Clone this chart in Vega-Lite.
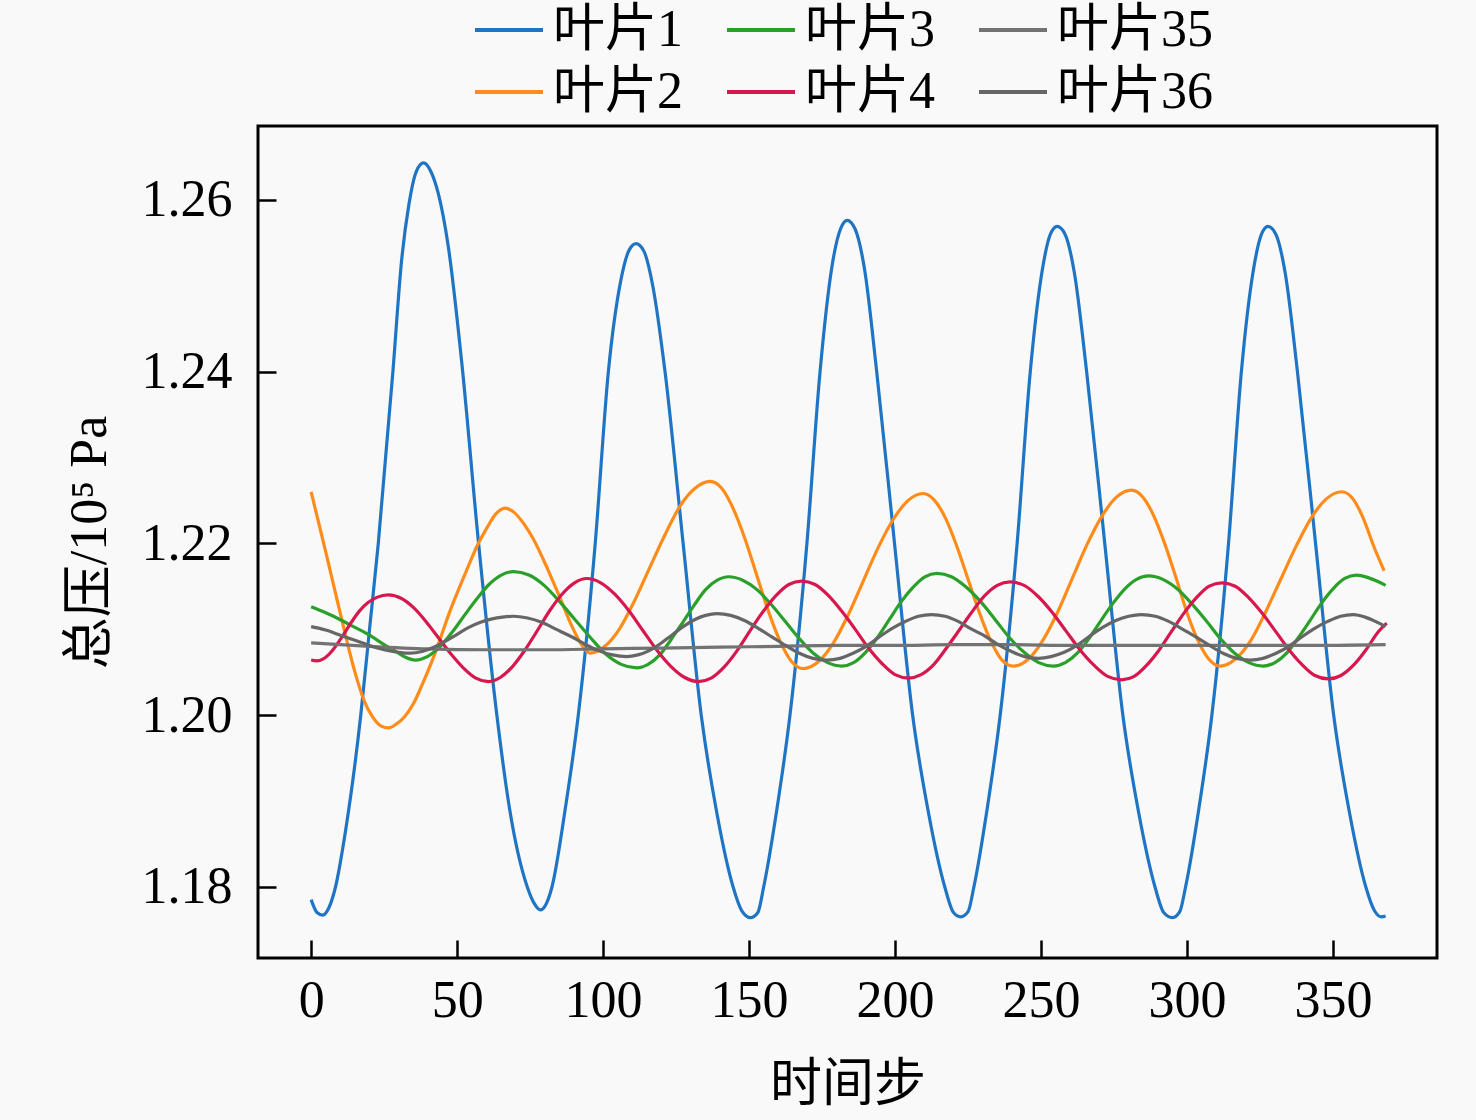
{
  "$schema": "https://vega.github.io/schema/vega-lite/v6.json",
  "description": "叶片总压随时间步变化",
  "width": 1179,
  "height": 832,
  "autosize": {"type": "none"},
  "padding": {"left": 258, "top": 126, "right": 39, "bottom": 162},
  "background": "#f9f9f9",
  "datasets": {
    "pressure": [
      {"step": 0, "blade": "叶片1", "p": 1.1785}, {"step": 2, "blade": "叶片1", "p": 1.1770}, {"step": 4, "blade": "叶片1", "p": 1.1767}, {"step": 6, "blade": "叶片1", "p": 1.1775}, {"step": 8, "blade": "叶片1", "p": 1.1795}, {"step": 12, "blade": "叶片1", "p": 1.1870}, {"step": 17, "blade": "叶片1", "p": 1.2000}, {"step": 20, "blade": "叶片1", "p": 1.2100}, {"step": 23, "blade": "叶片1", "p": 1.2200}, {"step": 28, "blade": "叶片1", "p": 1.2400}, {"step": 31, "blade": "叶片1", "p": 1.2530}, {"step": 33.5, "blade": "叶片1", "p": 1.2595}, {"step": 36, "blade": "叶片1", "p": 1.2633}, {"step": 38.5, "blade": "叶片1", "p": 1.2643}, {"step": 41, "blade": "叶片1", "p": 1.2633}, {"step": 43.5, "blade": "叶片1", "p": 1.2608}, {"step": 47, "blade": "叶片1", "p": 1.2545}, {"step": 51.6, "blade": "叶片1", "p": 1.2410}, {"step": 57.2, "blade": "叶片1", "p": 1.2205}, {"step": 63.6, "blade": "叶片1", "p": 1.2000}, {"step": 68, "blade": "叶片1", "p": 1.1890}, {"step": 74, "blade": "叶片1", "p": 1.1800}, {"step": 76.5, "blade": "叶片1", "p": 1.1780}, {"step": 78.5, "blade": "叶片1", "p": 1.1773},
      {"step": 80.5, "blade": "叶片1", "p": 1.1780}, {"step": 82.5, "blade": "叶片1", "p": 1.1800}, {"step": 87, "blade": "叶片1", "p": 1.1890}, {"step": 91.5, "blade": "叶片1", "p": 1.2000}, {"step": 97.3, "blade": "叶片1", "p": 1.2200}, {"step": 101.8, "blade": "叶片1", "p": 1.2400}, {"step": 106, "blade": "叶片1", "p": 1.2505}, {"step": 109, "blade": "叶片1", "p": 1.2542}, {"step": 111.3, "blade": "叶片1", "p": 1.2549}, {"step": 114, "blade": "叶片1", "p": 1.2540}, {"step": 117, "blade": "叶片1", "p": 1.2500}, {"step": 121.2, "blade": "叶片1", "p": 1.2400}, {"step": 127.4, "blade": "叶片1", "p": 1.2200}, {"step": 133.6, "blade": "叶片1", "p": 1.2000}, {"step": 139, "blade": "叶片1", "p": 1.1885}, {"step": 144.5, "blade": "叶片1", "p": 1.1800}, {"step": 147.5, "blade": "叶片1", "p": 1.1772}, {"step": 150.5, "blade": "叶片1", "p": 1.1764},
      {"step": 153, "blade": "叶片1", "p": 1.1770}, {"step": 155, "blade": "叶片1", "p": 1.1800}, {"step": 159.5, "blade": "叶片1", "p": 1.1890}, {"step": 164, "blade": "叶片1", "p": 1.2000}, {"step": 169.8, "blade": "叶片1", "p": 1.2200}, {"step": 174.3, "blade": "叶片1", "p": 1.2400}, {"step": 178.5, "blade": "叶片1", "p": 1.2525}, {"step": 181.3, "blade": "叶片1", "p": 1.2566}, {"step": 183.6, "blade": "叶片1", "p": 1.2576}, {"step": 186.3, "blade": "叶片1", "p": 1.2566}, {"step": 189.5, "blade": "叶片1", "p": 1.2520}, {"step": 193.7, "blade": "叶片1", "p": 1.2400}, {"step": 199.8, "blade": "叶片1", "p": 1.2200}, {"step": 206, "blade": "叶片1", "p": 1.2000}, {"step": 211.5, "blade": "叶片1", "p": 1.1885}, {"step": 217, "blade": "叶片1", "p": 1.1800}, {"step": 220, "blade": "叶片1", "p": 1.1770}, {"step": 222.5, "blade": "叶片1", "p": 1.1765},
      {"step": 225, "blade": "叶片1", "p": 1.1771}, {"step": 227, "blade": "叶片1", "p": 1.1800}, {"step": 231.5, "blade": "叶片1", "p": 1.1890}, {"step": 236, "blade": "叶片1", "p": 1.2000}, {"step": 241.8, "blade": "叶片1", "p": 1.2200}, {"step": 246.3, "blade": "叶片1", "p": 1.2400}, {"step": 250.5, "blade": "叶片1", "p": 1.2520}, {"step": 253.2, "blade": "叶片1", "p": 1.2560}, {"step": 255.5, "blade": "叶片1", "p": 1.2569}, {"step": 258.2, "blade": "叶片1", "p": 1.2560}, {"step": 261.4, "blade": "叶片1", "p": 1.2515}, {"step": 265.6, "blade": "叶片1", "p": 1.2400}, {"step": 271.8, "blade": "叶片1", "p": 1.2200}, {"step": 278, "blade": "叶片1", "p": 1.2000}, {"step": 283.5, "blade": "叶片1", "p": 1.1885}, {"step": 289, "blade": "叶片1", "p": 1.1800}, {"step": 292, "blade": "叶片1", "p": 1.1770}, {"step": 295, "blade": "叶片1", "p": 1.1764},
      {"step": 297.5, "blade": "叶片1", "p": 1.1771}, {"step": 299.5, "blade": "叶片1", "p": 1.1800}, {"step": 304, "blade": "叶片1", "p": 1.1890}, {"step": 308.5, "blade": "叶片1", "p": 1.2000}, {"step": 314.2, "blade": "叶片1", "p": 1.2200}, {"step": 318.6, "blade": "叶片1", "p": 1.2400}, {"step": 322.8, "blade": "叶片1", "p": 1.2520}, {"step": 325.5, "blade": "叶片1", "p": 1.2560}, {"step": 327.7, "blade": "叶片1", "p": 1.2569}, {"step": 330.4, "blade": "叶片1", "p": 1.2560}, {"step": 333.6, "blade": "叶片1", "p": 1.2515}, {"step": 337.8, "blade": "叶片1", "p": 1.2400}, {"step": 344, "blade": "叶片1", "p": 1.2200}, {"step": 350.2, "blade": "叶片1", "p": 1.2000}, {"step": 355.7, "blade": "叶片1", "p": 1.1885}, {"step": 361.2, "blade": "叶片1", "p": 1.1800}, {"step": 364.2, "blade": "叶片1", "p": 1.1772}, {"step": 366.5, "blade": "叶片1", "p": 1.1765}, {"step": 368, "blade": "叶片1", "p": 1.1766},

      {"step": 0, "blade": "叶片2", "p": 1.2260}, {"step": 5, "blade": "叶片2", "p": 1.2190}, {"step": 10, "blade": "叶片2", "p": 1.2118}, {"step": 15, "blade": "叶片2", "p": 1.2050}, {"step": 18, "blade": "叶片2", "p": 1.2018}, {"step": 21, "blade": "叶片2", "p": 1.1998}, {"step": 24, "blade": "叶片2", "p": 1.1987}, {"step": 26.5, "blade": "叶片2", "p": 1.1985}, {"step": 29, "blade": "叶片2", "p": 1.1989}, {"step": 32, "blade": "叶片2", "p": 1.1998}, {"step": 35, "blade": "叶片2", "p": 1.2013}, {"step": 38, "blade": "叶片2", "p": 1.2035}, {"step": 42, "blade": "叶片2", "p": 1.2068}, {"step": 48, "blade": "叶片2", "p": 1.2125}, {"step": 53.3, "blade": "叶片2", "p": 1.2169}, {"step": 57, "blade": "叶片2", "p": 1.2198}, {"step": 60.2, "blade": "叶片2", "p": 1.2218}, {"step": 63.5, "blade": "叶片2", "p": 1.2235}, {"step": 66.4, "blade": "叶片2", "p": 1.2241}, {"step": 69.5, "blade": "叶片2", "p": 1.2236}, {"step": 73, "blade": "叶片2", "p": 1.2222}, {"step": 76.1, "blade": "叶片2", "p": 1.2205}, {"step": 81, "blade": "叶片2", "p": 1.2170}, {"step": 85.3, "blade": "叶片2", "p": 1.2136}, {"step": 89.5, "blade": "叶片2", "p": 1.2102}, {"step": 93, "blade": "叶片2", "p": 1.2080}, {"step": 95.5, "blade": "叶片2", "p": 1.2072},
      {"step": 100.6, "blade": "叶片2", "p": 1.2080}, {"step": 105.75, "blade": "叶片2", "p": 1.2101}, {"step": 110.9, "blade": "叶片2", "p": 1.2134}, {"step": 116, "blade": "叶片2", "p": 1.2172}, {"step": 121.2, "blade": "叶片2", "p": 1.2210}, {"step": 126.3, "blade": "叶片2", "p": 1.2243}, {"step": 131.5, "blade": "叶片2", "p": 1.2264}, {"step": 136.6, "blade": "叶片2", "p": 1.2272},
      {"step": 140.6, "blade": "叶片2", "p": 1.2264}, {"step": 144.6, "blade": "叶片2", "p": 1.2240}, {"step": 148.6, "blade": "叶片2", "p": 1.2205}, {"step": 152.6, "blade": "叶片2", "p": 1.2163}, {"step": 156.6, "blade": "叶片2", "p": 1.2121}, {"step": 160.6, "blade": "叶片2", "p": 1.2086}, {"step": 164.6, "blade": "叶片2", "p": 1.2062}, {"step": 168.6, "blade": "叶片2", "p": 1.2054},
      {"step": 173.7, "blade": "叶片2", "p": 1.2062}, {"step": 178.9, "blade": "叶片2", "p": 1.2084}, {"step": 184, "blade": "叶片2", "p": 1.2117}, {"step": 189.1, "blade": "叶片2", "p": 1.2156}, {"step": 194.2, "blade": "叶片2", "p": 1.2195}, {"step": 199.4, "blade": "叶片2", "p": 1.2228}, {"step": 204.5, "blade": "叶片2", "p": 1.2250}, {"step": 209.6, "blade": "叶片2", "p": 1.2258},
      {"step": 213.5, "blade": "叶片2", "p": 1.2250}, {"step": 217.3, "blade": "叶片2", "p": 1.2229}, {"step": 221.2, "blade": "叶片2", "p": 1.2196}, {"step": 225, "blade": "叶片2", "p": 1.2158}, {"step": 228.9, "blade": "叶片2", "p": 1.2119}, {"step": 232.8, "blade": "叶片2", "p": 1.2086}, {"step": 236.6, "blade": "叶片2", "p": 1.2064}, {"step": 240.5, "blade": "叶片2", "p": 1.2057},
      {"step": 245.6, "blade": "叶片2", "p": 1.2065}, {"step": 250.6, "blade": "叶片2", "p": 1.2087}, {"step": 255.7, "blade": "叶片2", "p": 1.2120}, {"step": 260.8, "blade": "叶片2", "p": 1.2160}, {"step": 265.8, "blade": "叶片2", "p": 1.2199}, {"step": 270.9, "blade": "叶片2", "p": 1.2232}, {"step": 275.9, "blade": "叶片2", "p": 1.2254}, {"step": 281, "blade": "叶片2", "p": 1.2262},
      {"step": 284.8, "blade": "叶片2", "p": 1.2254}, {"step": 288.6, "blade": "叶片2", "p": 1.2232}, {"step": 292.4, "blade": "叶片2", "p": 1.2199}, {"step": 296.2, "blade": "叶片2", "p": 1.2160}, {"step": 299.9, "blade": "叶片2", "p": 1.2120}, {"step": 303.7, "blade": "叶片2", "p": 1.2087}, {"step": 307.5, "blade": "叶片2", "p": 1.2065}, {"step": 311.3, "blade": "叶片2", "p": 1.2057},
      {"step": 316.5, "blade": "叶片2", "p": 1.2065}, {"step": 321.7, "blade": "叶片2", "p": 1.2086}, {"step": 326.9, "blade": "叶片2", "p": 1.2120}, {"step": 332.2, "blade": "叶片2", "p": 1.2159}, {"step": 337.4, "blade": "叶片2", "p": 1.2197}, {"step": 342.6, "blade": "叶片2", "p": 1.2230}, {"step": 347.8, "blade": "叶片2", "p": 1.2252}, {"step": 353, "blade": "叶片2", "p": 1.2260}, {"step": 356.5, "blade": "叶片2", "p": 1.2253}, {"step": 360, "blade": "叶片2", "p": 1.2232}, {"step": 364, "blade": "叶片2", "p": 1.2196}, {"step": 367.5, "blade": "叶片2", "p": 1.2168},

      {"step": 0, "blade": "叶片3", "p": 1.2126}, {"step": 5, "blade": "叶片3", "p": 1.2119}, {"step": 10, "blade": "叶片3", "p": 1.2111}, {"step": 15, "blade": "叶片3", "p": 1.2102}, {"step": 20, "blade": "叶片3", "p": 1.2093}, {"step": 25, "blade": "叶片3", "p": 1.2082}, {"step": 29, "blade": "叶片3", "p": 1.2074}, {"step": 32.5, "blade": "叶片3", "p": 1.2067}, {"step": 35.6, "blade": "叶片3", "p": 1.2064},
      {"step": 39.8, "blade": "叶片3", "p": 1.2068}, {"step": 44, "blade": "叶片3", "p": 1.2079}, {"step": 48.2, "blade": "叶片3", "p": 1.2096}, {"step": 52.5, "blade": "叶片3", "p": 1.2116}, {"step": 56.7, "blade": "叶片3", "p": 1.2135}, {"step": 60.9, "blade": "叶片3", "p": 1.2152}, {"step": 65.1, "blade": "叶片3", "p": 1.2163}, {"step": 69.3, "blade": "叶片3", "p": 1.2167},
      {"step": 74.6, "blade": "叶片3", "p": 1.2163}, {"step": 79.8, "blade": "叶片3", "p": 1.2151}, {"step": 85.1, "blade": "叶片3", "p": 1.2132}, {"step": 90.4, "blade": "叶片3", "p": 1.2111}, {"step": 95.7, "blade": "叶片3", "p": 1.2090}, {"step": 100.9, "blade": "叶片3", "p": 1.2071}, {"step": 106.2, "blade": "叶片3", "p": 1.2059}, {"step": 111.5, "blade": "叶片3", "p": 1.2055},
      {"step": 115.4, "blade": "叶片3", "p": 1.2059}, {"step": 119.4, "blade": "叶片3", "p": 1.2070}, {"step": 123.3, "blade": "叶片3", "p": 1.2088}, {"step": 127.3, "blade": "叶片3", "p": 1.2108}, {"step": 131.2, "blade": "叶片3", "p": 1.2128}, {"step": 135.1, "blade": "叶片3", "p": 1.2146}, {"step": 139.1, "blade": "叶片3", "p": 1.2157}, {"step": 143, "blade": "叶片3", "p": 1.2161},
      {"step": 147.8, "blade": "叶片3", "p": 1.2157}, {"step": 152.7, "blade": "叶片3", "p": 1.2146}, {"step": 157.5, "blade": "叶片3", "p": 1.2129}, {"step": 162.4, "blade": "叶片3", "p": 1.2109}, {"step": 167.2, "blade": "叶片3", "p": 1.2089}, {"step": 172, "blade": "叶片3", "p": 1.2072}, {"step": 176.9, "blade": "叶片3", "p": 1.2061}, {"step": 181.7, "blade": "叶片3", "p": 1.2057},
      {"step": 185.8, "blade": "叶片3", "p": 1.2061}, {"step": 189.9, "blade": "叶片3", "p": 1.2073}, {"step": 193.9, "blade": "叶片3", "p": 1.2090}, {"step": 198, "blade": "叶片3", "p": 1.2111}, {"step": 202.1, "blade": "叶片3", "p": 1.2132}, {"step": 206.2, "blade": "叶片3", "p": 1.2149}, {"step": 210.2, "blade": "叶片3", "p": 1.2161}, {"step": 214.3, "blade": "叶片3", "p": 1.2165},
      {"step": 219.3, "blade": "叶片3", "p": 1.2161}, {"step": 224.3, "blade": "叶片3", "p": 1.2149}, {"step": 229.3, "blade": "叶片3", "p": 1.2132}, {"step": 234.3, "blade": "叶片3", "p": 1.2111}, {"step": 239.2, "blade": "叶片3", "p": 1.2090}, {"step": 244.2, "blade": "叶片3", "p": 1.2073}, {"step": 249.2, "blade": "叶片3", "p": 1.2061}, {"step": 254.2, "blade": "叶片3", "p": 1.2057},
      {"step": 258.3, "blade": "叶片3", "p": 1.2061}, {"step": 262.4, "blade": "叶片3", "p": 1.2072}, {"step": 266.4, "blade": "叶片3", "p": 1.2089}, {"step": 270.5, "blade": "叶片3", "p": 1.2110}, {"step": 274.6, "blade": "叶片3", "p": 1.2130}, {"step": 278.7, "blade": "叶片3", "p": 1.2147}, {"step": 282.7, "blade": "叶片3", "p": 1.2158}, {"step": 286.8, "blade": "叶片3", "p": 1.2162},
      {"step": 291.7, "blade": "叶片3", "p": 1.2158}, {"step": 296.6, "blade": "叶片3", "p": 1.2147}, {"step": 301.5, "blade": "叶片3", "p": 1.2130}, {"step": 306.5, "blade": "叶片3", "p": 1.2110}, {"step": 311.4, "blade": "叶片3", "p": 1.2089}, {"step": 316.3, "blade": "叶片3", "p": 1.2072}, {"step": 321.2, "blade": "叶片3", "p": 1.2061}, {"step": 326.1, "blade": "叶片3", "p": 1.2057},
      {"step": 330.1, "blade": "叶片3", "p": 1.2061}, {"step": 334.1, "blade": "叶片3", "p": 1.2072}, {"step": 338.1, "blade": "叶片3", "p": 1.2090}, {"step": 342.1, "blade": "叶片3", "p": 1.2110}, {"step": 346, "blade": "叶片3", "p": 1.2130}, {"step": 350, "blade": "叶片3", "p": 1.2147}, {"step": 354, "blade": "叶片3", "p": 1.2159}, {"step": 358, "blade": "叶片3", "p": 1.2163}, {"step": 362, "blade": "叶片3", "p": 1.2160}, {"step": 365, "blade": "叶片3", "p": 1.2156}, {"step": 368, "blade": "叶片3", "p": 1.2151},

      {"step": 0, "blade": "叶片4", "p": 1.2064}, {"step": 2, "blade": "叶片4", "p": 1.2063}, {"step": 4, "blade": "叶片4", "p": 1.2065}, {"step": 7, "blade": "叶片4", "p": 1.2074}, {"step": 10, "blade": "叶片4", "p": 1.2088}, {"step": 13.4, "blade": "叶片4", "p": 1.2106}, {"step": 16.5, "blade": "叶片4", "p": 1.2121}, {"step": 19.5, "blade": "叶片4", "p": 1.2131}, {"step": 22.5, "blade": "叶片4", "p": 1.2137}, {"step": 26.5, "blade": "叶片4", "p": 1.2140},
      {"step": 30.8, "blade": "叶片4", "p": 1.2136}, {"step": 35.1, "blade": "叶片4", "p": 1.2125}, {"step": 39.3, "blade": "叶片4", "p": 1.2109}, {"step": 43.6, "blade": "叶片4", "p": 1.2090}, {"step": 47.9, "blade": "叶片4", "p": 1.2071}, {"step": 52.1, "blade": "叶片4", "p": 1.2055}, {"step": 56.4, "blade": "叶片4", "p": 1.2043}, {"step": 60.7, "blade": "叶片4", "p": 1.2039},
      {"step": 64.9, "blade": "叶片4", "p": 1.2044}, {"step": 69.1, "blade": "叶片4", "p": 1.2057}, {"step": 73.3, "blade": "叶片4", "p": 1.2076}, {"step": 77.6, "blade": "叶片4", "p": 1.2099}, {"step": 81.8, "blade": "叶片4", "p": 1.2122}, {"step": 86, "blade": "叶片4", "p": 1.2141}, {"step": 90.2, "blade": "叶片4", "p": 1.2154}, {"step": 94.4, "blade": "叶片4", "p": 1.2159},
      {"step": 99.2, "blade": "叶片4", "p": 1.2154}, {"step": 103.9, "blade": "叶片4", "p": 1.2141}, {"step": 108.7, "blade": "叶片4", "p": 1.2122}, {"step": 113.5, "blade": "叶片4", "p": 1.2099}, {"step": 118.3, "blade": "叶片4", "p": 1.2076}, {"step": 123.1, "blade": "叶片4", "p": 1.2057}, {"step": 127.8, "blade": "叶片4", "p": 1.2044}, {"step": 132.6, "blade": "叶片4", "p": 1.2039},
      {"step": 137, "blade": "叶片4", "p": 1.2043}, {"step": 141.5, "blade": "叶片4", "p": 1.2056}, {"step": 145.9, "blade": "叶片4", "p": 1.2075}, {"step": 150.3, "blade": "叶片4", "p": 1.2098}, {"step": 154.7, "blade": "叶片4", "p": 1.2120}, {"step": 159.2, "blade": "叶片4", "p": 1.2139}, {"step": 163.6, "blade": "叶片4", "p": 1.2152}, {"step": 168, "blade": "叶片4", "p": 1.2156},
      {"step": 172.6, "blade": "叶片4", "p": 1.2152}, {"step": 177.2, "blade": "叶片4", "p": 1.2139}, {"step": 181.7, "blade": "叶片4", "p": 1.2121}, {"step": 186.3, "blade": "叶片4", "p": 1.2100}, {"step": 190.9, "blade": "叶片4", "p": 1.2078}, {"step": 195.5, "blade": "叶片4", "p": 1.2060}, {"step": 200, "blade": "叶片4", "p": 1.2047}, {"step": 204.6, "blade": "叶片4", "p": 1.2043},
      {"step": 208.9, "blade": "叶片4", "p": 1.2047}, {"step": 213.3, "blade": "叶片4", "p": 1.2059}, {"step": 217.6, "blade": "叶片4", "p": 1.2078}, {"step": 222, "blade": "叶片4", "p": 1.2099}, {"step": 226.3, "blade": "叶片4", "p": 1.2120}, {"step": 230.7, "blade": "叶片4", "p": 1.2139}, {"step": 235, "blade": "叶片4", "p": 1.2151}, {"step": 239.4, "blade": "叶片4", "p": 1.2155},
      {"step": 244.2, "blade": "叶片4", "p": 1.2151}, {"step": 249, "blade": "叶片4", "p": 1.2138}, {"step": 253.7, "blade": "叶片4", "p": 1.2120}, {"step": 258.5, "blade": "叶片4", "p": 1.2098}, {"step": 263.3, "blade": "叶片4", "p": 1.2076}, {"step": 268.1, "blade": "叶片4", "p": 1.2058}, {"step": 272.8, "blade": "叶片4", "p": 1.2045}, {"step": 277.6, "blade": "叶片4", "p": 1.2041},
      {"step": 281.9, "blade": "叶片4", "p": 1.2045}, {"step": 286.2, "blade": "叶片4", "p": 1.2058}, {"step": 290.5, "blade": "叶片4", "p": 1.2076}, {"step": 294.8, "blade": "叶片4", "p": 1.2098}, {"step": 299, "blade": "叶片4", "p": 1.2119}, {"step": 303.3, "blade": "叶片4", "p": 1.2137}, {"step": 307.6, "blade": "叶片4", "p": 1.2150}, {"step": 311.9, "blade": "叶片4", "p": 1.2154},
      {"step": 316.5, "blade": "叶片4", "p": 1.2150}, {"step": 321, "blade": "叶片4", "p": 1.2137}, {"step": 325.6, "blade": "叶片4", "p": 1.2119}, {"step": 330.2, "blade": "叶片4", "p": 1.2098}, {"step": 334.7, "blade": "叶片4", "p": 1.2077}, {"step": 339.3, "blade": "叶片4", "p": 1.2059}, {"step": 343.8, "blade": "叶片4", "p": 1.2046}, {"step": 348.4, "blade": "叶片4", "p": 1.2042}, {"step": 352.7, "blade": "叶片4", "p": 1.2046}, {"step": 357, "blade": "叶片4", "p": 1.2058}, {"step": 361.3, "blade": "叶片4", "p": 1.2076}, {"step": 365.5, "blade": "叶片4", "p": 1.2097}, {"step": 368.4, "blade": "叶片4", "p": 1.2107},

      {"step": 0, "blade": "叶片35", "p": 1.2084}, {"step": 20, "blade": "叶片35", "p": 1.2080}, {"step": 40, "blade": "叶片35", "p": 1.2077}, {"step": 60, "blade": "叶片35", "p": 1.2076}, {"step": 80, "blade": "叶片35", "p": 1.2076}, {"step": 100, "blade": "叶片35", "p": 1.2077}, {"step": 120, "blade": "叶片35", "p": 1.2078}, {"step": 140, "blade": "叶片35", "p": 1.2079}, {"step": 160, "blade": "叶片35", "p": 1.2080}, {"step": 180, "blade": "叶片35", "p": 1.2081}, {"step": 200, "blade": "叶片35", "p": 1.2081}, {"step": 220, "blade": "叶片35", "p": 1.2082}, {"step": 240, "blade": "叶片35", "p": 1.2082}, {"step": 260, "blade": "叶片35", "p": 1.2081}, {"step": 280, "blade": "叶片35", "p": 1.2081}, {"step": 300, "blade": "叶片35", "p": 1.2081}, {"step": 320, "blade": "叶片35", "p": 1.2081}, {"step": 340, "blade": "叶片35", "p": 1.2081}, {"step": 368, "blade": "叶片35", "p": 1.2082},

      {"step": 0, "blade": "叶片36", "p": 1.2103}, {"step": 5, "blade": "叶片36", "p": 1.2099}, {"step": 10, "blade": "叶片36", "p": 1.2093}, {"step": 15, "blade": "叶片36", "p": 1.2087}, {"step": 20, "blade": "叶片36", "p": 1.2081}, {"step": 25, "blade": "叶片36", "p": 1.2076}, {"step": 30, "blade": "叶片36", "p": 1.2073}, {"step": 34, "blade": "叶片36", "p": 1.2072}, {"step": 38, "blade": "叶片36", "p": 1.2074}, {"step": 42, "blade": "叶片36", "p": 1.2079}, {"step": 46, "blade": "叶片36", "p": 1.2086}, {"step": 50, "blade": "叶片36", "p": 1.2094}, {"step": 54, "blade": "叶片36", "p": 1.2102}, {"step": 58, "blade": "叶片36", "p": 1.2108}, {"step": 62, "blade": "叶片36", "p": 1.2112}, {"step": 65.5, "blade": "叶片36", "p": 1.2114}, {"step": 69.3, "blade": "叶片36", "p": 1.2115},
      {"step": 74.1, "blade": "叶片36", "p": 1.2113}, {"step": 79, "blade": "叶片36", "p": 1.2108}, {"step": 83.8, "blade": "叶片36", "p": 1.2100}, {"step": 88.7, "blade": "叶片36", "p": 1.2092}, {"step": 93.5, "blade": "叶片36", "p": 1.2083}, {"step": 98.3, "blade": "叶片36", "p": 1.2075}, {"step": 103.2, "blade": "叶片36", "p": 1.2070}, {"step": 108, "blade": "叶片36", "p": 1.2068},
      {"step": 111.9, "blade": "叶片36", "p": 1.2070}, {"step": 115.8, "blade": "叶片36", "p": 1.2075}, {"step": 119.6, "blade": "叶片36", "p": 1.2083}, {"step": 123.5, "blade": "叶片36", "p": 1.2093}, {"step": 127.4, "blade": "叶片36", "p": 1.2103}, {"step": 131.3, "blade": "叶片36", "p": 1.2111}, {"step": 135.1, "blade": "叶片36", "p": 1.2116}, {"step": 139, "blade": "叶片36", "p": 1.2118},
      {"step": 143.7, "blade": "叶片36", "p": 1.2116}, {"step": 148.4, "blade": "叶片36", "p": 1.2110}, {"step": 153.1, "blade": "叶片36", "p": 1.2101}, {"step": 157.8, "blade": "叶片36", "p": 1.2091}, {"step": 162.5, "blade": "叶片36", "p": 1.2081}, {"step": 167.2, "blade": "叶片36", "p": 1.2072}, {"step": 171.9, "blade": "叶片36", "p": 1.2066}, {"step": 176.6, "blade": "叶片36", "p": 1.2064},
      {"step": 181.1, "blade": "叶片36", "p": 1.2066}, {"step": 185.6, "blade": "叶片36", "p": 1.2072}, {"step": 190.1, "blade": "叶片36", "p": 1.2080}, {"step": 194.6, "blade": "叶片36", "p": 1.2091}, {"step": 199, "blade": "叶片36", "p": 1.2101}, {"step": 203.5, "blade": "叶片36", "p": 1.2109}, {"step": 208, "blade": "叶片36", "p": 1.2115}, {"step": 212.5, "blade": "叶片36", "p": 1.2117},
      {"step": 217.1, "blade": "叶片36", "p": 1.2115}, {"step": 221.6, "blade": "叶片36", "p": 1.2109}, {"step": 226.2, "blade": "叶片36", "p": 1.2100}, {"step": 230.8, "blade": "叶片36", "p": 1.2092}, {"step": 235.3, "blade": "叶片36", "p": 1.2082}, {"step": 239.9, "blade": "叶片36", "p": 1.2074}, {"step": 244.4, "blade": "叶片36", "p": 1.2068}, {"step": 249, "blade": "叶片36", "p": 1.2066},
      {"step": 253.4, "blade": "叶片36", "p": 1.2068}, {"step": 257.9, "blade": "叶片36", "p": 1.2073}, {"step": 262.3, "blade": "叶片36", "p": 1.2081}, {"step": 266.7, "blade": "叶片36", "p": 1.2092}, {"step": 271.1, "blade": "叶片36", "p": 1.2102}, {"step": 275.6, "blade": "叶片36", "p": 1.2110}, {"step": 280, "blade": "叶片36", "p": 1.2115}, {"step": 284.4, "blade": "叶片36", "p": 1.2117},
      {"step": 289.1, "blade": "叶片36", "p": 1.2115}, {"step": 293.7, "blade": "叶片36", "p": 1.2109}, {"step": 298.4, "blade": "叶片36", "p": 1.2100}, {"step": 303, "blade": "叶片36", "p": 1.2091}, {"step": 307.7, "blade": "叶片36", "p": 1.2081}, {"step": 312.3, "blade": "叶片36", "p": 1.2072}, {"step": 317, "blade": "叶片36", "p": 1.2066}, {"step": 321.6, "blade": "叶片36", "p": 1.2064},
      {"step": 326, "blade": "叶片36", "p": 1.2066}, {"step": 330.5, "blade": "叶片36", "p": 1.2072}, {"step": 334.9, "blade": "叶片36", "p": 1.2080}, {"step": 339.3, "blade": "叶片36", "p": 1.2091}, {"step": 343.7, "blade": "叶片36", "p": 1.2101}, {"step": 348.2, "blade": "叶片36", "p": 1.2109}, {"step": 352.6, "blade": "叶片36", "p": 1.2115}, {"step": 357, "blade": "叶片36", "p": 1.2117}, {"step": 361, "blade": "叶片36", "p": 1.2114}, {"step": 364.5, "blade": "叶片36", "p": 1.2109}, {"step": 368, "blade": "叶片36", "p": 1.2103}
    ]
  },
  "data": {"name": "pressure"},
  "mark": {"type": "line", "interpolate": "monotone", "strokeWidth": 3.2, "clip": true},
  "encoding": {
    "x": {
      "field": "step",
      "type": "quantitative",
      "scale": {"domain": [-18.2, 385.6], "nice": false, "zero": false},
      "axis": {"values": [0, 50, 100, 150, 200, 250, 300, 350], "format": "d", "title": "时间步", "titlePadding": 33, "labelPadding": 17}
    },
    "y": {
      "field": "p",
      "type": "quantitative",
      "scale": {"domain": [1.1717, 1.2686], "nice": false, "zero": false},
      "axis": {"values": [1.18, 1.2, 1.22, 1.24, 1.26], "format": ".2f", "title": "总压/10⁵ Pa", "titlePadding": 25, "labelPadding": 26}
    },
    "color": {
      "field": "blade",
      "type": "nominal",
      "scale": {
        "domain": ["叶片1", "叶片3", "叶片35", "叶片2", "叶片4", "叶片36"],
        "range": ["#1f75c4", "#2aa02a", "#737373", "#ff8c1a", "#d6184f", "#666666"]
      },
      "legend": {
        "title": null,
        "orient": "none",
        "legendX": 215,
        "legendY": -132,
        "direction": "horizontal",
        "columns": 3,
        "symbolType": "stroke",
        "symbolSize": 4624,
        "symbolStrokeWidth": 4,
        "labelOffset": 8,
        "columnPadding": 35,
        "rowPadding": -9,
        "labelFontSize": 52,
        "labelFont": "Liberation Serif, Noto Sans CJK SC",
        "labelColor": "black",
        "labelLimit": 400
      }
    }
  },
  "config": {
    "font": "Liberation Serif, Noto Sans CJK SC",
    "view": {"stroke": "black", "strokeWidth": 3},
    "axis": {
      "domain": false,
      "grid": false,
      "ticks": true,
      "offset": -18,
      "tickSize": 18,
      "tickWidth": 2.5,
      "tickColor": "black",
      "labelFont": "Liberation Serif",
      "labelFontSize": 52,
      "labelColor": "black",
      "titleFont": "Liberation Serif, Noto Sans CJK SC",
      "titleFontSize": 52,
      "titleFontWeight": "normal",
      "titleColor": "black"
    }
  }
}
